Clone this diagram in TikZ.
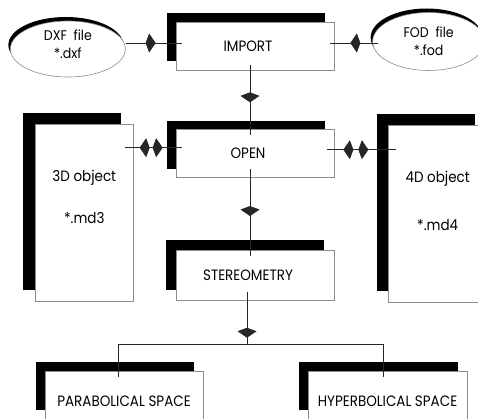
\documentclass[tikz,border=0pt]{standalone}
\usepackage{fontspec}
\setmainfont{Poppins}[FakeStretch=0.9]
\usetikzlibrary{positioning, shapes, shadows, arrows.meta, decorations.markings}

\begin{document}
\begin{tikzpicture}
        [
            x=1pt, y=1pt, font=\fontsize{15pt}{18pt}\selectfont,
            >={Kite[length=10pt, width=19pt, inset=3.5pt]},
            panel/.style={rectangle, draw=black!45, line width=0.7pt,
                          fill=white, inner sep=0pt, minimum width=158pt,
                          minimum height=48pt,
                          drop shadow={shadow xshift=-#1, shadow yshift=#1,
                                       fill=black, opacity=1}},
            panel/.default=9pt,
            tall/.style={panel=12pt, minimum width=98pt,
                         minimum height=177pt, align=center},
            shifted/.style={execute at end node=\hspace*{14pt}},
            file/.style={ellipse, draw=black!45, line width=0.6pt,
                         fill=white, inner sep=0pt, align=center,
                         font=\fontsize{14pt}{18pt}\selectfont,
                         drop shadow={shadow xshift=-2pt, shadow yshift=4pt,
                                      fill=black, opacity=1}},
            link/.style={draw=black!85, line width=0.7pt},
            fwd/.style={postaction={decorate, decoration={markings,
                        mark=at position #1 with {\arrow{>}}}}},
            bwd/.style={postaction={decorate, decoration={markings,
                        mark=at position #1 with {\arrowreversed{>}}}}}
        ]
        \useasboundingbox (0,0) rectangle (478,-419);
        % main column
        \node (import) [panel, shifted] at (255,-46) {IMPORT};
        \node (open) [panel, shifted, below=59pt of import] {OPEN};
        \node (stereo) [panel=10pt, shifted, minimum height=50pt,
                        below=72pt of open] {STEREOMETRY};
        % input files
        \node (dxf) [file, minimum width=115pt, minimum height=56pt,
                     text depth=9pt, left=50pt of import, yshift=-3pt]
                    {DXF\ \ file\\*.dxf};
        \node (fod) [file, minimum width=112pt, minimum height=58pt,
                     right=38pt of import, yshift=4.5pt] {FOD\ \ file\\*.fod};
        % objects
        \node (md3) [tall, text depth=32pt,
                     below left=-5pt and 42pt of open.north west]
                    {3D object\\[24pt]*.md3};
        \node (md4) [tall, text depth=26pt,
                     below right=-4pt and 54pt of open.north east]
                    {4D object\\[30pt]*.md4};
        % spaces
        \node (para) [panel, text height=23pt, below=70pt of stereo,
                      xshift=-131pt] {PARABOLICAL SPACE};
        \node (hyper) [panel, text height=23pt, minimum width=159pt,
                       below=70pt of stereo, xshift=132.5pt]
                      {HYPERBOLICAL SPACE};
        \node (split) [coordinate, below=44pt of stereo, xshift=-8pt] {};

        \draw [link, fwd=30pt] ([yshift=3pt]dxf.east |- import.west)
              -- ([xshift=6pt, yshift=3pt]import.west);
        \draw [link, fwd=28pt] ([xshift=6pt, yshift=3pt]fod.west |- import.east)
              -- ([xshift=-4pt, yshift=3pt]import.east);
        \draw [link, fwd=37pt] ([xshift=-5pt, yshift=5pt]import.south)
              -- ([xshift=-5pt, yshift=-6pt]open.north);
        \draw [link, bwd=15pt, fwd=38pt]
              ([xshift=-9pt, yshift=6pt]md3.east |- open.west)
              -- ([xshift=6pt, yshift=6pt]open.west);
        \draw [link, bwd=16pt, fwd=41pt] ([xshift=-7pt, yshift=4pt]open.east)
              -- ([xshift=8pt, yshift=4pt]md4.west |- open.east);
        \draw [link, fwd=47pt] ([xshift=-5pt, yshift=9pt]open.south)
              -- ([xshift=-5pt, yshift=-6pt]stereo.north);
        \draw [link, fwd=-7pt] ([xshift=-8pt, yshift=9pt]stereo.south)
              -- (split);
        \draw [link] ([xshift=-6pt, yshift=-6pt]para.north) |- (split)
              -| ([xshift=-4pt, yshift=-6pt]hyper.north);
    \end{tikzpicture}
\end{document}
